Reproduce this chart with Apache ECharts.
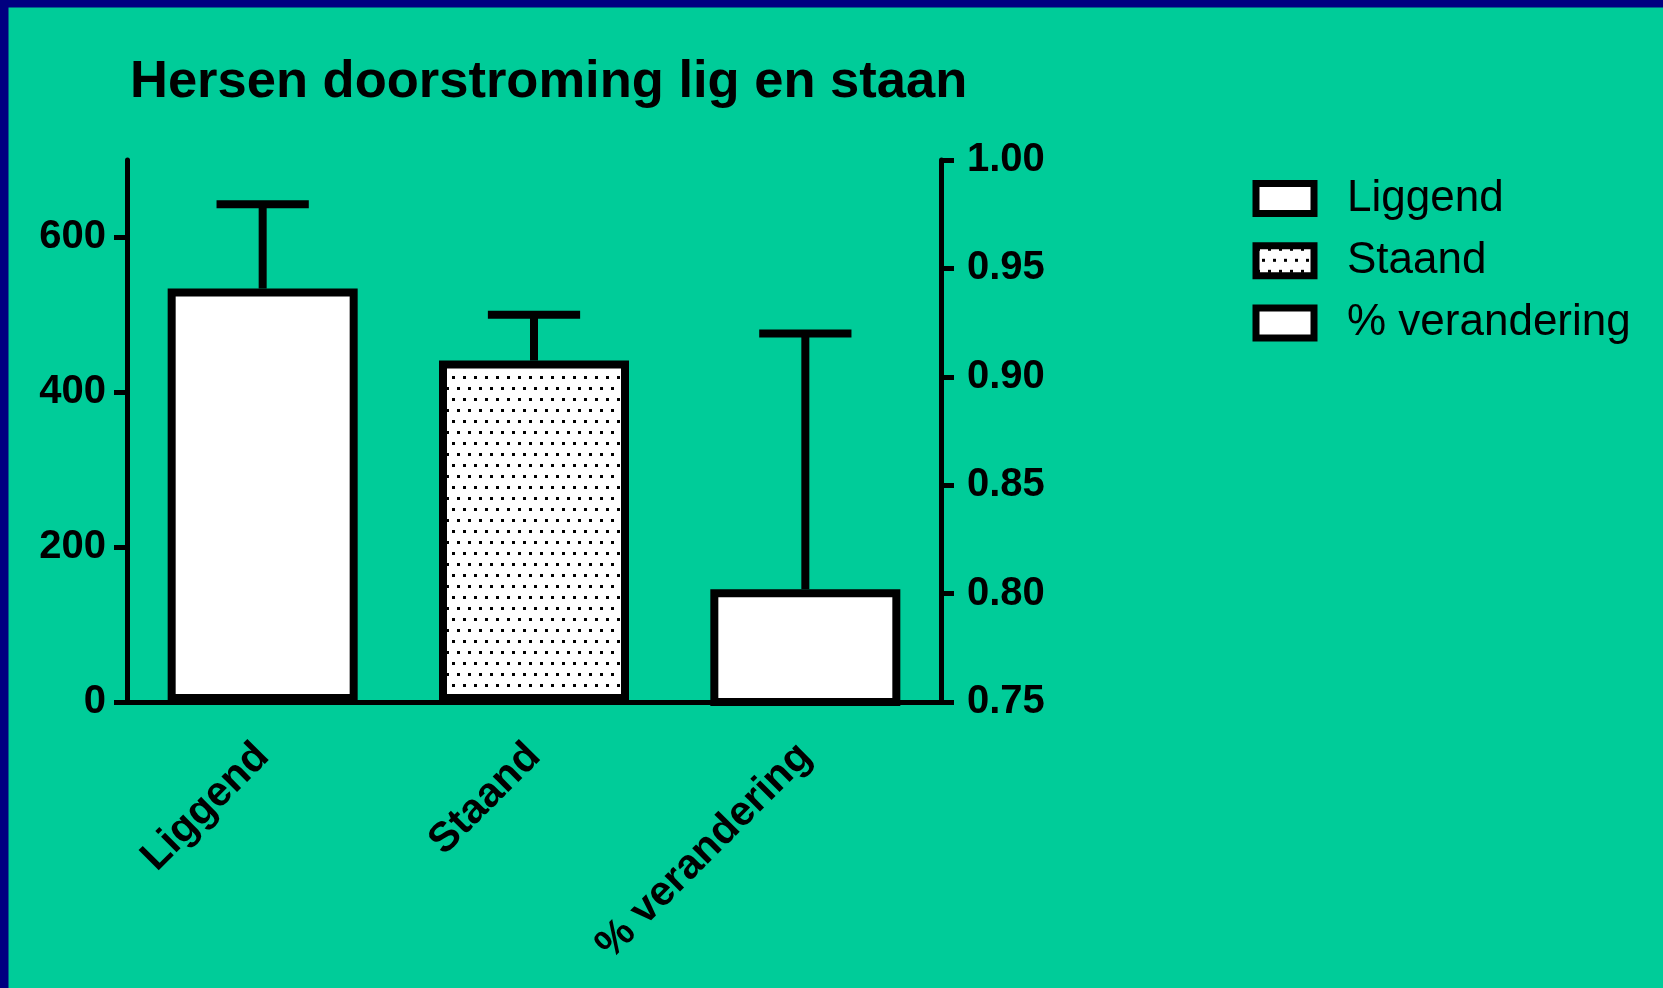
<!DOCTYPE html>
<html>
<head>
<meta charset="utf-8">
<script src="https://cdn.jsdelivr.net/npm/echarts@6/dist/echarts.min.js"></script>
<style>
html,body{margin:0;padding:0;background:#00cc99;}
#c{width:1663px;height:988px;}
</style>
</head>
<body>
<div id="c"></div>
<script>
// ---- data ----
const categories = ['Liggend', 'Staand', '% verandering'];
const meanValues = [534, 441, 0.802];
const upperValues = [643, 500, 0.92];
const valueAxisIndex = [0, 0, 1];
const leftTicks = [0, 200, 400, 600];
const rightTicks = [0.75, 0.80, 0.85, 0.90, 0.95, 1.00];
const titleText = 'Hersen doorstroming lig en staan';

// ---- dotted pattern for "Staand" ----
const pat = document.createElement('canvas');
pat.width = 11; pat.height = 22;
const pc = pat.getContext('2d');
pc.fillStyle = '#ffffff'; pc.fillRect(0, 0, 11, 22);
pc.fillStyle = '#000000';
pc.fillRect(1, 2, 3, 3);
pc.fillRect(6, 13, 3, 3);
const fills = ['#ffffff', {image: pat, repeat: 'repeat'}, '#ffffff'];

const FONT = '"Liberation Sans", Arial, sans-serif';
const chart = echarts.init(document.getElementById('c'), null, {renderer: 'canvas'});

const barSeries = categories.map((name, i) => ({
  name: name,
  type: 'bar',
  yAxisIndex: valueAxisIndex[i],
  data: categories.map((c, j) => j === i ? meanValues[i] : '-'),
  barWidth: 190,
  barGap: '-100%',
  itemStyle: {color: fills[i], borderColor: '#000', borderWidth: 8},
  emphasis: {disabled: true},
  z: 2
}));

function errRender(params, api) {
  const idx = api.value(0);
  const p0 = api.coord([idx, api.value(1)]);
  const p1 = api.coord([idx, api.value(2)]);
  const hw = api.size([1, 0])[0] * 0.17;
  const st = {stroke: '#000', lineWidth: 8};
  return {
    type: 'group',
    children: [
      {type: 'line', shape: {x1: p0[0], y1: p0[1], x2: p1[0], y2: p1[1]}, style: st},
      {type: 'line', shape: {x1: p1[0] - hw, y1: p1[1], x2: p1[0] + hw, y2: p1[1]}, style: st}
    ]
  };
}
function errData(axisIdx) {
  const out = [];
  categories.forEach((c, i) => {
    if (valueAxisIndex[i] === axisIdx) out.push([i, meanValues[i], upperValues[i]]);
  });
  return out;
}
const errSeries = [0, 1].map(a => ({
  name: 'err' + a,
  type: 'custom',
  yAxisIndex: a,
  renderItem: errRender,
  encode: {x: 0, y: [1, 2]},
  data: errData(a),
  z: 3,
  silent: true
}));

const axisLineStyle = {color: '#000', width: 5};
const labelStyle = {color: '#000', fontFamily: FONT, fontWeight: 'bold', fontSize: 40};

chart.setOption({
  backgroundColor: '#00cc99',
  animation: false,
  title: {
    text: titleText,
    left: 125, top: 51,
    textStyle: {color: '#000', fontFamily: FONT, fontWeight: 'bold', fontSize: 52.5}
  },
  legend: {
    data: categories,
    orient: 'vertical',
    left: 1252.5, top: 176.5,
    padding: 0,
    itemWidth: 58, itemHeight: 30, itemGap: 18.3,
    icon: 'rect',
    itemStyle: {borderColor: '#000', borderWidth: 7},
    textStyle: {color: '#000', fontFamily: FONT, fontSize: 44, lineHeight: 44, padding: [0, 0, 0, 28]},
    selectedMode: false
  },
  grid: {left: 127, right: 722, top: 160, bottom: 286, containLabel: false, outerBoundsMode: 'none'},
  xAxis: {
    type: 'category',
    data: categories,
    boundaryGap: true,
    axisLine: {lineStyle: axisLineStyle},
    axisTick: {alignWithLabel: true, length: 14, lineStyle: {color: '#000', width: 5}},
    axisLabel: Object.assign({}, labelStyle, {fontSize: 41.5, rotate: 45, margin: 48, interval: 0, padding: [62, 0, 0, 0]}),
    splitLine: {show: false}
  },
  yAxis: [
    {
      type: 'value', min: 0, max: 700, position: 'left',
      axisLine: {show: true, lineStyle: axisLineStyle},
      axisTick: {show: true, length: 13, lineStyle: {color: '#000', width: 5}, customValues: leftTicks},
      axisLabel: Object.assign({margin: 21, customValues: leftTicks}, labelStyle),
      splitLine: {show: false}
    },
    {
      type: 'value', min: 0.75, max: 1.00, position: 'right',
      axisLine: {show: true, lineStyle: axisLineStyle},
      axisTick: {show: true, length: 13, lineStyle: {color: '#000', width: 5}, customValues: rightTicks},
      axisLabel: Object.assign({margin: 26, customValues: rightTicks, formatter: v => Number(v).toFixed(2)}, labelStyle),
      splitLine: {show: false}
    }
  ],
  graphic: [
    {type: 'rect', shape: {x: 0, y: 0, width: 1663, height: 7.5}, style: {fill: '#000080'}, z: 100},
    {type: 'rect', shape: {x: 0, y: 0, width: 8.5, height: 988}, style: {fill: '#000080'}, z: 100}
  ],
  series: barSeries.concat(errSeries)
});
</script>
</body>
</html>
